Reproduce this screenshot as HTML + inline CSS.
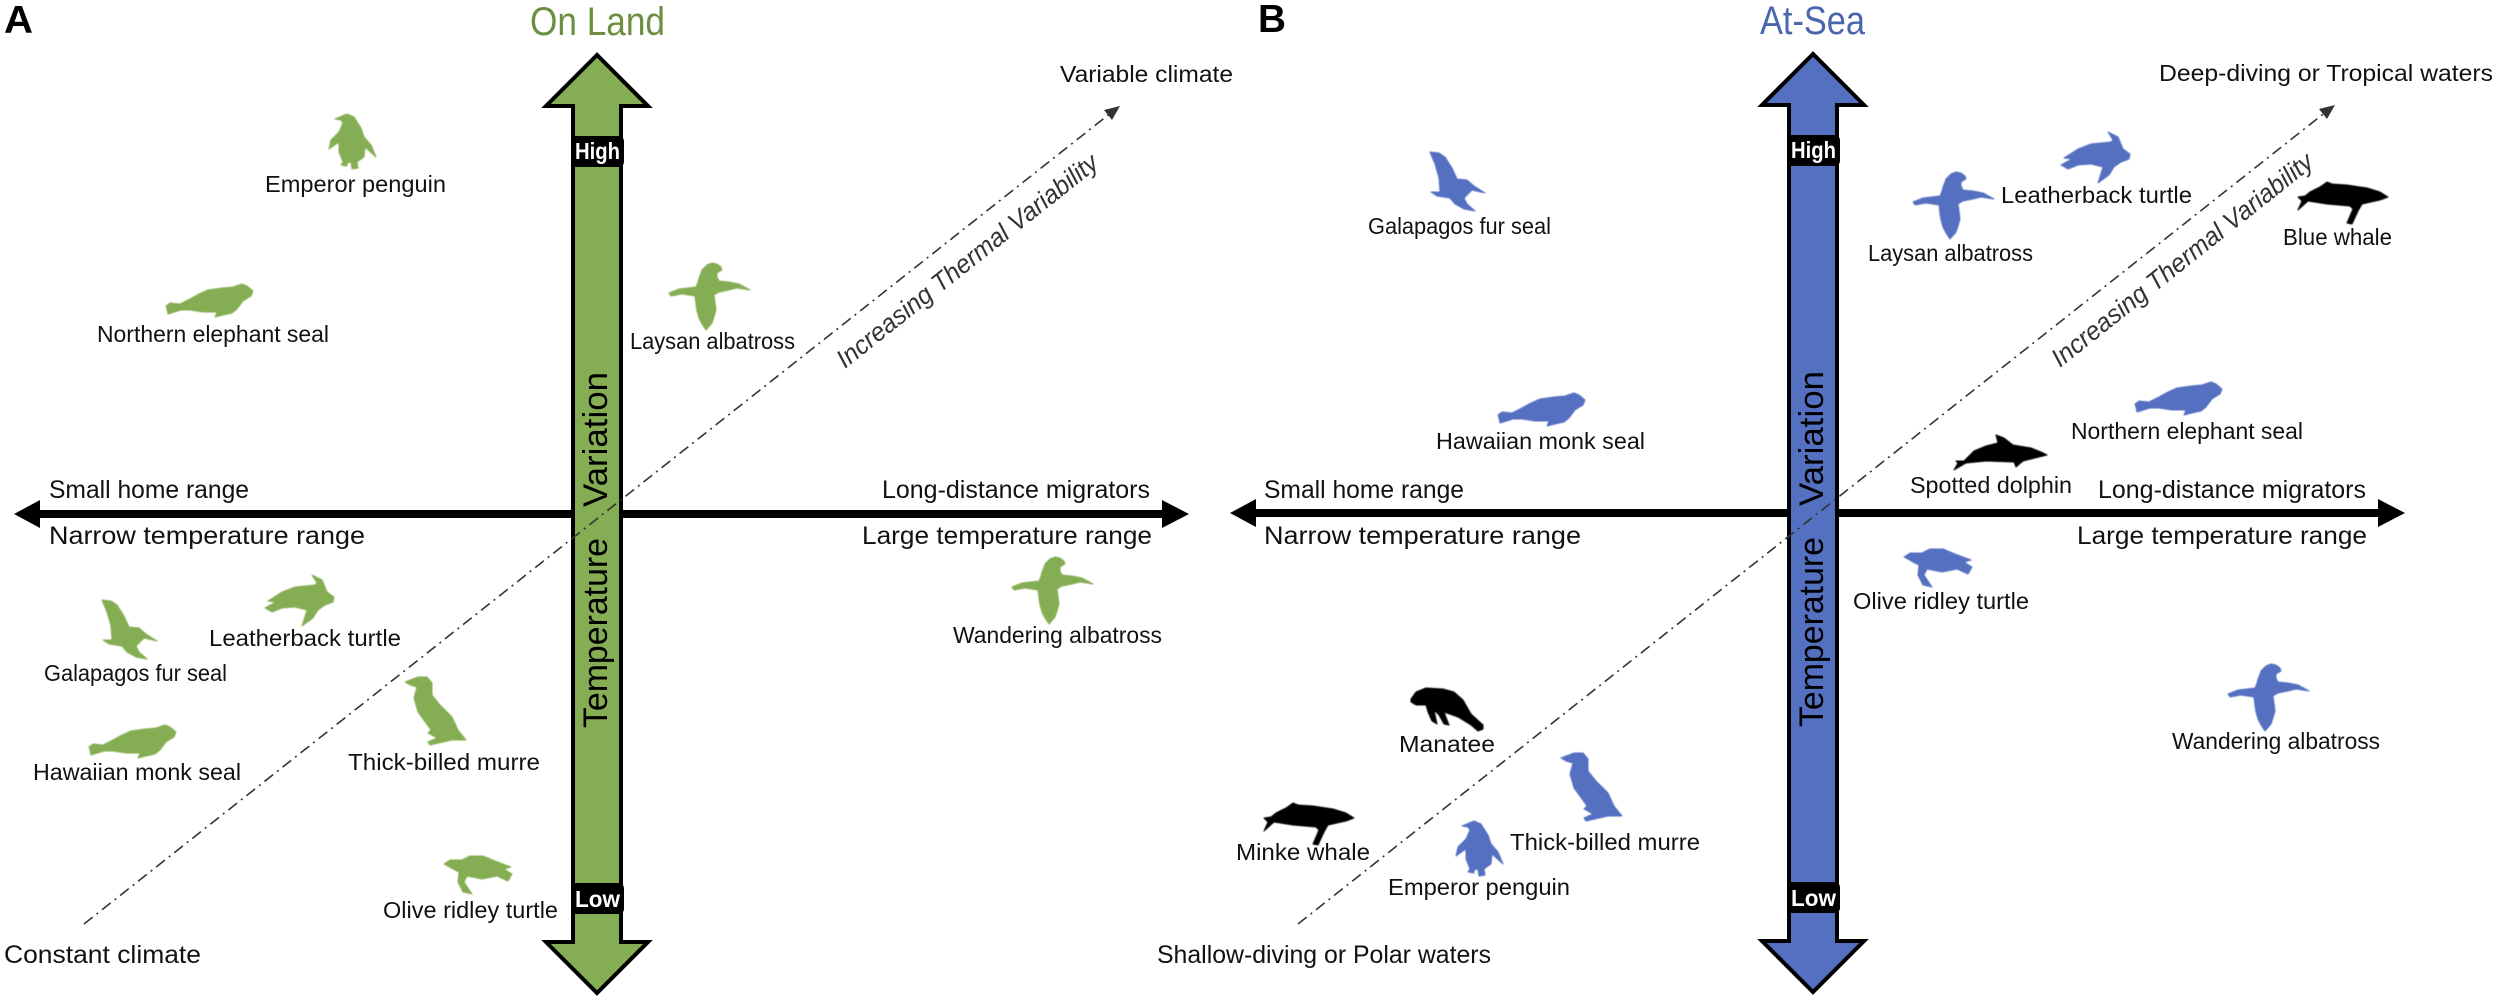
<!DOCTYPE html>
<html><head><meta charset="utf-8"><style>
html,body{margin:0;padding:0;background:#fff}
svg{display:block}
text{font-family:"Liberation Sans",sans-serif;fill:#111;font-size:23.5px}
.ax{font-size:25px}
.t{font-size:40px}
.p{font-size:39px;font-weight:bold;fill:#000}
.hl{font-size:23px;font-weight:bold;fill:#fff}
.tv{font-size:34px;fill:#000}
.g{fill:#85ad53;stroke:#85ad53}
.b{fill:#5470c0;stroke:#5470c0}
.k{fill:#000;stroke:#000}
.g,.b,.k{stroke-width:1;stroke-linejoin:round;filter:url(#s)}
.it{font-style:italic;fill:#333;font-size:26px}
</style></head><body>
<svg width="2500" height="1002" viewBox="0 0 2500 1002" xmlns="http://www.w3.org/2000/svg">
<defs>
<filter id="s" x="-10%" y="-10%" width="120%" height="120%"><feGaussianBlur stdDeviation="0.6"/></filter>
<polygon id="alb" transform="translate(-10,-8)" points="53,8 58,9 62,12 63,15 58,18 58,22 60,26 70,27 80,29 91,35 78,33 70,35 60,37 55,40 56,47 57,55 55,62 53,68 47,75 43,69 40,63 38,56 37,50 36,41 23,39 12,41 10,38 20,34 37,32 39,27 40,23 42,18 43,15 48,10"/>
<polygon id="seal" transform="translate(-6,-10)" points="6,32 10,29 20,30 28,26 37,21 48,16 62,14 73,13 82,10 87,12 93,17 91,22 83,27 80,31 77,35 72,39 63,41 55,43 57,38 43,38 30,36 21,36 8,40 7,35"/>
<polygon id="lturt" transform="translate(-170,-5)" points="217,5 227,10 232,22 239,27 238,32 230,35 223,40 218,48 207,56 212,40 200,37 187,38 177,42 170,38 181,32 173,31 187,22 200,17 220,15 222,13"/>
<polygon id="fur" transform="translate(-8,-31)" points="8,31 17,32 23,36 30,47 35,58 45,59 52,65 63,72 50,69 42,77 45,83 53,90 42,88 33,83 28,77 15,75 9,71 18,71 17,57 13,43"/>
<polygon id="murre" transform="translate(-10,-7)" points="10,12 23,7 32,7 37,13 37,25 45,35 57,47 63,60 71,70 57,70 35,75 33,72 42,68 33,63 36,60 23,42 19,28 22,17 15,15"/>
<polygon id="oturt" transform="translate(-49,-187)" points="49,195 55,191 67,191 75,187 88,187 100,192 116,198 109,200 117,205 113,212 102,207 87,210 72,207 69,213 77,225 68,223 63,213 64,203 58,200"/>
<polygon id="peng" transform="translate(-10,-9)" points="16,14 28,9 35,12 42,23 45,32 52,40 57,52 46,42 45,52 38,57 39,63 33,64 32,57 28,58 28,61 22,60 24,57 20,47 20,37 10,44 12,35 20,27 24,18 22,15"/>
<polygon id="whale" transform="translate(-8,-6)" points="8,21 15,20 20,16 30,11 37,6 42,8 57,9 77,12 90,16 98,21 90,24 72,28 68,35 62,48 57,47 63,33 60,30 37,28 18,25 8,34 12,25"/>
<polygon id="dolph" transform="translate(-8,-7)" points="8,42 12,35 10,33 18,33 28,23 40,18 52,15 50,7 58,10 67,17 85,20 95,24 101,27 93,29 77,33 70,39 68,34 40,33 20,35"/>
<polygon id="mana" transform="translate(-5,-6)" points="5,17 10,10 20,6 37,7 48,10 57,18 65,32 77,43 77,47 72,49 65,43 52,35 38,30 43,43 38,42 33,33 28,28 31,42 26,39 22,30 20,23 10,23 5,20"/>
</defs>

<!-- PANEL A -->
<g>
<path d="M14 514L40 500V510H1162V500L1189 514 1162 528V518H40V528Z" fill="#000"/>
<path d="M597 55L546 106H573V942H546L597 993 648 942H621V106H648Z" fill="#85ad53" stroke="#000" stroke-width="4" stroke-linejoin="miter"/>
<rect x="571" y="136" width="53" height="31" rx="5" fill="#000"/>
<rect x="571" y="883" width="53" height="31" rx="5" fill="#000"/>
<text class="hl" x="575" y="159" textLength="45" lengthAdjust="spacingAndGlyphs">High</text>
<text class="hl" x="575" y="907" textLength="45" lengthAdjust="spacingAndGlyphs">Low</text>
<text class="tv" transform="translate(607,728) rotate(-90)" textLength="190" lengthAdjust="spacingAndGlyphs">Temperature</text>
<text class="tv" transform="translate(607,507) rotate(-90)" textLength="135" lengthAdjust="spacingAndGlyphs">Variation</text>
<line x1="84" y1="924" x2="1112" y2="112" stroke="#333" stroke-width="1.6" stroke-dasharray="11 5 2 5"/>
<path d="M1120 106L1112 120 1104 110Z" fill="#333"/>
<text class="it" transform="translate(845,369) rotate(-38.5)" textLength="326" lengthAdjust="spacingAndGlyphs">Increasing Thermal Variability</text>
<text class="p" x="4" y="33" textLength="29" lengthAdjust="spacingAndGlyphs">A</text>
<text class="t" x="530" y="35" textLength="135" lengthAdjust="spacingAndGlyphs" style="fill:#6b8e3f">On Land</text>
<text x="1060" y="82" textLength="173" lengthAdjust="spacingAndGlyphs">Variable climate</text>
<text x="265" y="192" textLength="181" lengthAdjust="spacingAndGlyphs">Emperor penguin</text>
<text x="97" y="342" textLength="232" lengthAdjust="spacingAndGlyphs">Northern elephant seal</text>
<text x="630" y="349" textLength="165" lengthAdjust="spacingAndGlyphs">Laysan albatross</text>
<text class="ax" x="49" y="498" textLength="200" lengthAdjust="spacingAndGlyphs">Small home range</text>
<text class="ax" x="882" y="498" textLength="268" lengthAdjust="spacingAndGlyphs">Long-distance migrators</text>
<text class="ax" x="49" y="544" textLength="316" lengthAdjust="spacingAndGlyphs">Narrow temperature range</text>
<text class="ax" x="862" y="544" textLength="290" lengthAdjust="spacingAndGlyphs">Large temperature range</text>
<text x="209" y="646" textLength="192" lengthAdjust="spacingAndGlyphs">Leatherback turtle</text>
<text x="44" y="681" textLength="183" lengthAdjust="spacingAndGlyphs">Galapagos fur seal</text>
<text x="953" y="643" textLength="209" lengthAdjust="spacingAndGlyphs">Wandering albatross</text>
<text x="33" y="780" textLength="208" lengthAdjust="spacingAndGlyphs">Hawaiian monk seal</text>
<text x="348" y="770" textLength="192" lengthAdjust="spacingAndGlyphs">Thick-billed murre</text>
<text x="383" y="918" textLength="175" lengthAdjust="spacingAndGlyphs">Olive ridley turtle</text>
<text class="ax" x="4" y="963" textLength="197" lengthAdjust="spacingAndGlyphs">Constant climate</text>
<use href="#peng" class="g" x="329" y="114"/>
<use href="#seal" class="g" x="166" y="284"/>
<use href="#alb" class="g" x="669" y="263"/>
<use href="#lturt" class="g" x="265" y="575"/>
<use href="#fur" class="g" x="102" y="600"/>
<use href="#alb" class="g" x="1012" y="557"/>
<use href="#seal" class="g" x="89" y="725"/>
<use href="#murre" class="g" x="405" y="677"/>
<use href="#oturt" class="g" x="444" y="856"/>
</g>

<!-- PANEL B -->
<g>
<path d="M1230 513L1256 499V509H2378V499L2405 513 2378 527V517H1256V527Z" fill="#000"/>
<path d="M1813 54L1762 105H1789V941H1762L1813 992 1864 941H1837V105H1864Z" fill="#5470c0" stroke="#000" stroke-width="4" stroke-linejoin="miter"/>
<rect x="1787" y="135" width="53" height="31" rx="5" fill="#000"/>
<rect x="1787" y="882" width="53" height="31" rx="5" fill="#000"/>
<text class="hl" x="1791" y="158" textLength="45" lengthAdjust="spacingAndGlyphs">High</text>
<text class="hl" x="1791" y="906" textLength="45" lengthAdjust="spacingAndGlyphs">Low</text>
<text class="tv" transform="translate(1823,727) rotate(-90)" textLength="190" lengthAdjust="spacingAndGlyphs">Temperature</text>
<text class="tv" transform="translate(1823,506) rotate(-90)" textLength="135" lengthAdjust="spacingAndGlyphs">Variation</text>
<line x1="1298" y1="924" x2="2327" y2="111" stroke="#333" stroke-width="1.6" stroke-dasharray="11 5 2 5"/>
<path d="M2335 105L2327 119 2319 109Z" fill="#333"/>
<text class="it" transform="translate(2060,368) rotate(-38.5)" textLength="326" lengthAdjust="spacingAndGlyphs">Increasing Thermal Variability</text>
<text class="p" x="1258" y="32" textLength="28" lengthAdjust="spacingAndGlyphs">B</text>
<text class="t" x="1760" y="34" textLength="105" lengthAdjust="spacingAndGlyphs" style="fill:#4a66ac">At-Sea</text>
<text x="2159" y="81" textLength="334" lengthAdjust="spacingAndGlyphs">Deep-diving or Tropical waters</text>
<text x="1368" y="234" textLength="183" lengthAdjust="spacingAndGlyphs">Galapagos fur seal</text>
<text x="2001" y="203" textLength="191" lengthAdjust="spacingAndGlyphs">Leatherback turtle</text>
<text x="1868" y="261" textLength="165" lengthAdjust="spacingAndGlyphs">Laysan albatross</text>
<text x="2283" y="245" textLength="109" lengthAdjust="spacingAndGlyphs">Blue whale</text>
<text x="1436" y="449" textLength="209" lengthAdjust="spacingAndGlyphs">Hawaiian monk seal</text>
<text x="2071" y="439" textLength="232" lengthAdjust="spacingAndGlyphs">Northern elephant seal</text>
<text x="1910" y="493" textLength="162" lengthAdjust="spacingAndGlyphs">Spotted dolphin</text>
<text class="ax" x="1264" y="498" textLength="200" lengthAdjust="spacingAndGlyphs">Small home range</text>
<text class="ax" x="2098" y="498" textLength="268" lengthAdjust="spacingAndGlyphs">Long-distance migrators</text>
<text class="ax" x="1264" y="544" textLength="317" lengthAdjust="spacingAndGlyphs">Narrow temperature range</text>
<text class="ax" x="2077" y="544" textLength="290" lengthAdjust="spacingAndGlyphs">Large temperature range</text>
<text x="1853" y="609" textLength="176" lengthAdjust="spacingAndGlyphs">Olive ridley turtle</text>
<text x="2172" y="749" textLength="208" lengthAdjust="spacingAndGlyphs">Wandering albatross</text>
<text x="1399" y="752" textLength="96" lengthAdjust="spacingAndGlyphs">Manatee</text>
<text x="1510" y="850" textLength="190" lengthAdjust="spacingAndGlyphs">Thick-billed murre</text>
<text x="1236" y="860" textLength="134" lengthAdjust="spacingAndGlyphs">Minke whale</text>
<text x="1388" y="895" textLength="182" lengthAdjust="spacingAndGlyphs">Emperor penguin</text>
<text class="ax" x="1157" y="963" textLength="334" lengthAdjust="spacingAndGlyphs">Shallow-diving or Polar waters</text>
<use href="#fur" class="b" x="1430" y="152"/>
<use href="#alb" class="b" x="1913" y="172"/>
<use href="#lturt" class="b" x="2061" y="132"/>
<use href="#whale" class="k" x="2298" y="182"/>
<use href="#seal" class="b" x="1498" y="393"/>
<use href="#seal" class="b" x="2135" y="382"/>
<use href="#dolph" class="k" x="1954" y="435"/>
<use href="#oturt" class="b" x="1904" y="549"/>
<use href="#alb" class="b" x="2228" y="664"/>
<use href="#mana" class="k" x="1411" y="688"/>
<use href="#murre" class="b" x="1561" y="753"/>
<use href="#peng" class="b" x="1456" y="821"/>
<use href="#whale" class="k" x="1264" y="803"/>
</g>
</svg>
</body></html>
